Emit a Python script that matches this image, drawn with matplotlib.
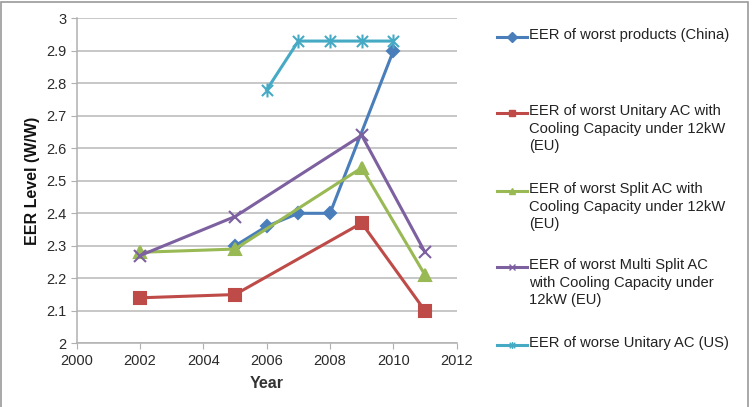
import matplotlib
matplotlib.use("Agg")
import matplotlib.pyplot as plt
from matplotlib.path import Path
from matplotlib.lines import Line2D
from matplotlib.patches import Rectangle

plt.rcParams['font.family'] = ['Liberation Sans', 'DejaVu Sans']

china_x = [2005, 2006, 2007, 2008, 2010]
china_y = [2.30, 2.36, 2.40, 2.40, 2.90]
unitary_eu_x = [2002, 2005, 2009, 2011]
unitary_eu_y = [2.14, 2.15, 2.37, 2.10]
split_eu_x = [2002, 2005, 2009, 2011]
split_eu_y = [2.28, 2.29, 2.54, 2.21]
multi_eu_x = [2002, 2005, 2009, 2011]
multi_eu_y = [2.27, 2.39, 2.64, 2.28]
unitary_us_x = [2006, 2007, 2008, 2009, 2010]
unitary_us_y = [2.78, 2.93, 2.93, 2.93, 2.93]

labels = [
    "EER of worst products (China)",
    "EER of worst Unitary AC with\nCooling Capacity under 12kW\n(EU)",
    "EER of worst Split AC with\nCooling Capacity under 12kW\n(EU)",
    "EER of worst Multi Split AC\nwith Cooling Capacity under\n12kW (EU)",
    "EER of worse Unitary AC (US)",
]
colors = ["#4A7EBB", "#BE4B48", "#98B954", "#7D60A0", "#46AAC5"]

star = Path([(0, -1), (0, 1), (-0.8, -0.8), (0.8, 0.8), (-0.8, 0.8), (0.8, -0.8)],
            [Path.MOVETO, Path.LINETO, Path.MOVETO, Path.LINETO, Path.MOVETO, Path.LINETO])
markers = ['D', 's', '^', 'x', star]
msizes = [6, 9, 9, 9, 10]

fig = plt.figure(figsize=(7.54, 4.07), dpi=100)
ax = fig.add_axes([0.1017, 0.1565, 0.504, 0.7985])

series = [(china_x, china_y), (unitary_eu_x, unitary_eu_y), (split_eu_x, split_eu_y),
          (multi_eu_x, multi_eu_y), (unitary_us_x, unitary_us_y)]
for (xs, ys), c, m, ms in zip(series, colors, markers, msizes):
    ax.plot(xs, ys, color=c, lw=2.2, marker=m, markersize=ms,
            markeredgecolor=c, markerfacecolor=c, markeredgewidth=1.5, zorder=3)

ax.set_xlim(2000, 2012)
ax.set_ylim(2, 3)
ax.set_xticks(range(2000, 2013, 2))
yt = [2 + i * 0.1 for i in range(11)]
ax.set_yticks(yt)
ax.set_yticklabels(["2", "2.1", "2.2", "2.3", "2.4", "2.5", "2.6", "2.7", "2.8", "2.9", "3"])
ax.grid(axis='y', color='#BDBDBD', lw=1.2)
ax.set_axisbelow(True)
for s in ['top', 'right']:
    ax.spines[s].set_visible(False)
for s in ['left', 'bottom']:
    ax.spines[s].set_color('#B0B0B0')
    ax.spines[s].set_linewidth(1.1)
ax.tick_params(axis='both', direction='out', length=4, color='#B0B0B0',
               labelsize=10.5, labelcolor='#2A2A2A')
ax.set_xlabel("Year", fontsize=11.5, fontweight='bold', color='#333333', labelpad=6)
ax.set_ylabel("EER Level (W/W)", fontsize=11.5, fontweight='bold', color='#111111', labelpad=4)

# Legend drawn manually
tops = [37, 113, 191, 267, 345]
for lab, c, m, top in zip(labels, colors, markers, tops):
    yc = 1 - top / 407
    fig.add_artist(Line2D([497 / 754, 527 / 754], [yc, yc], color=c, lw=2.2,
                          transform=fig.transFigure))
    fig.add_artist(Line2D([512 / 754], [yc], color=c, marker=m, markersize=5,
                          markerfacecolor=c, markeredgecolor=c, markeredgewidth=1.0,
                          transform=fig.transFigure))
    fig.text(529 / 754, yc + 9 / 407, lab, fontsize=10.6, color='#222222', va='top',
             ha='left', linespacing=1.32, transform=fig.transFigure)

fig.add_artist(Rectangle((1 / 754, -0.01), 747 / 754, 1 - 2 / 407 + 0.01,
                         transform=fig.transFigure, fill=False,
                         edgecolor='#9A9A9A', lw=1.2))

fig.savefig("out.png", dpi=100)
